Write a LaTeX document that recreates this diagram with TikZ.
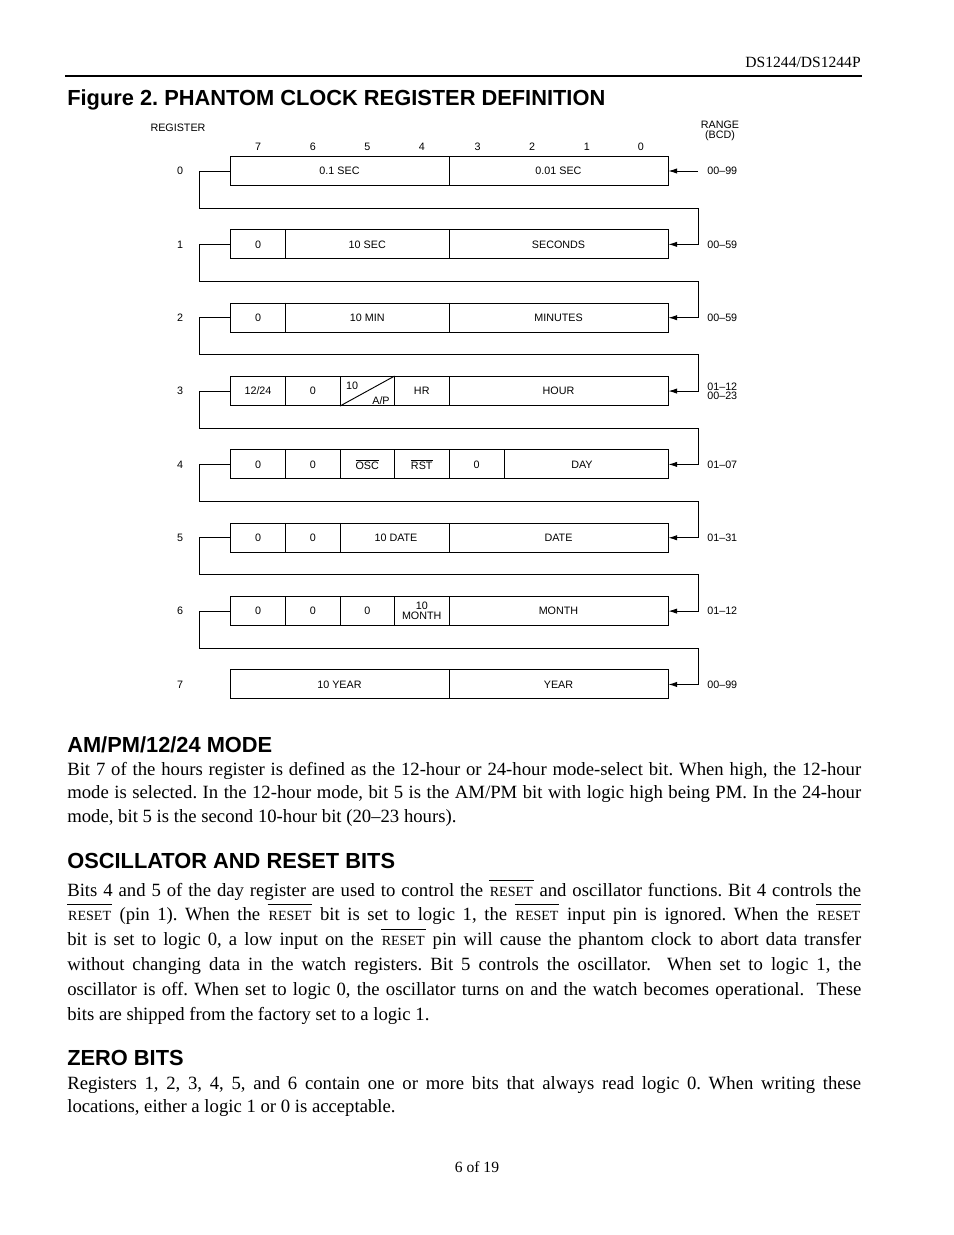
\documentclass[tikz,border=0pt]{standalone}
\usepackage{fontspec}
\setmainfont{Liberation Serif}
\setsansfont{Liberation Sans}
\usetikzlibrary{arrows.meta,fit}
\frenchspacing
\newcommand\rsbar{\leavevmode\hbox{\vbox{\hrule height 0.6pt\kern 4pt\hbox{\kern0.6pt\fontsize{9}{10}\selectfont RESET\kern0.6pt}}}}
\newcommand\divs[2]{\foreach \x in {#2}{\draw[cellline] (\x,0 |- r#1.north) -- (\x,0 |- r#1.south);}}
\begin{document}
\begin{tikzpicture}[x=0.6415pt,y=-0.6415pt,
  regbox/.style={draw, line width=0.6pt, inner sep=0pt},
  cellline/.style={line width=0.6pt},
  lbl/.style={font=\sffamily\fontsize{6.9}{7.5}\selectfont, inner sep=0pt},
  conn/.style={line width=0.55pt},
  arr/.style={conn, -{Latex[length=5.5pt,width=3.4pt]}},
  body/.style={anchor=base west, inner sep=0pt, font=\fontsize{12}{15}\selectfont},
  head/.style={anchor=base west, inner sep=0pt, font=\sffamily\bfseries\fontsize{14}{16}\selectfont}]
\useasboundingbox (0,0) rectangle (954,1235);
\fill[white] (0,0) rectangle (954,1235);

% page header
\node[anchor=base east, inner sep=0pt, font=\fontsize{10}{12}\selectfont] (hdr) at (861,67) {DS1244/DS1244P};
\coordinate (ruleL) at (65,76);
\coordinate (ruleR) at (862,76);
\draw[line width=1pt] (ruleL) -- (ruleR);
\node[head] (title) at (67,105) {Figure 2. PHANTOM CLOCK REGISTER DEFINITION};

% column heads
\node[lbl] (reghd) at (178,128) {REGISTER};
\node[lbl, align=center, font=\sffamily\fontsize{6.9}{6.2}\selectfont] (rngHd) at (720,131) {RANGE\\(BCD)};
\foreach \b/\xx in {7/258,6/312.75,5/367.25,4/421.75,3/477.5,2/532,1/586.75,0/640.75}
  \node[lbl] (bit\b) at (\xx,147) {\b};

% register boxes and numbers
\foreach \i in {0,...,7}{
  \pgfmathsetmacro\c{171+73.35*\i}
  \node[regbox, fit={(230,{\c-14.5}) (668,{\c+14.5})}] (r\i) {};
  \node[lbl] (n\i) at (180,\c) {\i};
}

% cell dividers
\divs{0}{449}
\divs{1}{285.5,449}
\divs{2}{285.5,449}
\divs{3}{285.5,340,394.5,449}
\divs{4}{285.5,340,394.5,449,504}
\divs{5}{285.5,340,449}
\divs{6}{285.5,340,394.5,449}
\divs{7}{449}
\draw[cellline] (340,0 |- r3.south) -- (394.5,0 |- r3.north);

% cell texts
\node[lbl] (c00) at (339.5,0 |- r0) {0.1 SEC};
\node[lbl] (c01) at (558.5,0 |- r0) {0.01 SEC};
\node[lbl] (c10) at (258,0 |- r1) {0};
\node[lbl] (c11) at (367.25,0 |- r1) {10 SEC};
\node[lbl] (c12) at (558.5,0 |- r1) {SECONDS};
\node[lbl] (c20) at (258,0 |- r2) {0};
\node[lbl] (c21) at (367.25,0 |- r2) {10 MIN};
\node[lbl] (c22) at (558.5,0 |- r2) {MINUTES};
\node[lbl] (c30) at (258,0 |- r3) {12/24};
\node[lbl] (c31) at (312.75,0 |- r3) {0};
\node[lbl] (c32) at (352,386) {10};
\node[lbl] (c33) at (381,401) {A/P};
\node[lbl] (c34) at (421.75,0 |- r3) {HR};
\node[lbl] (c35) at (558.5,0 |- r3) {HOUR};
\node[lbl] (c40) at (258,0 |- r4) {0};
\node[lbl] (c41) at (312.75,0 |- r4) {0};
\node[lbl] (c42) at (367.25,0 |- r4) {$\overline{\mbox{OSC}}$};
\node[lbl] (c43) at (421.75,0 |- r4) {$\overline{\mbox{RST}}$};
\node[lbl] (c44) at (476.5,0 |- r4) {0};
\node[lbl] (c45) at (582,0 |- r4) {DAY};
\node[lbl] (c50) at (258,0 |- r5) {0};
\node[lbl] (c51) at (312.75,0 |- r5) {0};
\node[lbl] (c52) at (396,0 |- r5) {10 DATE};
\node[lbl] (c53) at (558.5,0 |- r5) {DATE};
\node[lbl] (c60) at (258,0 |- r6) {0};
\node[lbl] (c61) at (312.75,0 |- r6) {0};
\node[lbl] (c62) at (367.25,0 |- r6) {0};
\node[lbl, align=center, font=\sffamily\fontsize{6.9}{6.4}\selectfont] (c63) at (421.75,0 |- r6) {10\\MONTH};
\node[lbl] (c64) at (558.5,0 |- r6) {MONTH};
\node[lbl] (c70) at (339.5,0 |- r7) {10 YEAR};
\node[lbl] (c71) at (558.5,0 |- r7) {YEAR};

% range labels
\node[lbl, anchor=west] (g0) at (707,0 |- r0) {00–99};
\node[lbl, anchor=west] (g1) at (707,0 |- r1) {00–59};
\node[lbl, anchor=west] (g2) at (707,0 |- r2) {00–59};
\node[lbl, anchor=west, align=left, font=\sffamily\fontsize{6.9}{5.9}\selectfont] (g3) at (707,0 |- r3) {01–12\\00–23};
\node[lbl, anchor=west] (g4) at (707,0 |- r4) {01–07};
\node[lbl, anchor=west] (g5) at (707,0 |- r5) {01–31};
\node[lbl, anchor=west] (g6) at (707,0 |- r6) {01–12};
\node[lbl, anchor=west] (g7) at (707,0 |- r7) {00–99};

% connectors
\coordinate (in0) at (698,0 |- r0);
\draw[arr] (in0) -- (r0.east);
\foreach \i [evaluate=\i as \j using int(\i+1)] in {0,...,6}
  \draw[arr] (r\i.west) -- ++(-30,0) -- ++(0,37) -| ([xshift=19.25pt]r\j.east) -- (r\j.east);

% text sections
\node[head] (h1) at (67,752) {AM/PM/12/24 MODE};
\node[body] (p1) at (67,775) {\parbox[t]{509.3pt}{\fontsize{12}{15.1}\selectfont
Bit 7 of the hours register is defined as the 12-hour or 24-hour mode-select bit. When high, the 12-hour\linebreak
mode is selected. In the 12-hour mode, bit 5 is the AM/PM bit with logic high being PM. In the 24-hour\linebreak
mode, bit 5 is the second 10-hour bit (20–23 hours).}};

\node[head] (h2) at (67,868) {OSCILLATOR AND RESET BITS};
\node[body] (p2) at (67,896) {\parbox[t]{509.3pt}{\fontsize{12}{16}\selectfont
Bits 4 and 5 of the day register are used to control the \rsbar{} and oscillator functions. Bit 4 controls the\linebreak
\rsbar{} (pin 1). When the \rsbar{} bit is set to logic 1, the \rsbar{} input pin is ignored. When the \rsbar\linebreak
bit is set to logic 0, a low input on the \rsbar{} pin will cause the phantom clock to abort data transfer\linebreak
without changing data in the watch registers. Bit 5 controls the oscillator.\ \ When set to logic 1, the\linebreak
oscillator is off. When set to logic 0, the oscillator turns on and the watch becomes operational.\ \ These\linebreak
bits are shipped from the factory set to a logic 1.}};

\node[head] (h3) at (67,1065) {ZERO BITS};
\node[body] (p3) at (67,1089) {\parbox[t]{509.3pt}{\fontsize{12}{15.1}\selectfont
Registers 1, 2, 3, 4, 5, and 6 contain one or more bits that always read logic 0. When writing these\linebreak
locations, either a logic 1 or 0 is acceptable.}};

% footer
\node[anchor=base, inner sep=0pt, font=\fontsize{10}{12}\selectfont] (ftr) at (477,1172) {6 of 19};
\end{tikzpicture}
\end{document}
